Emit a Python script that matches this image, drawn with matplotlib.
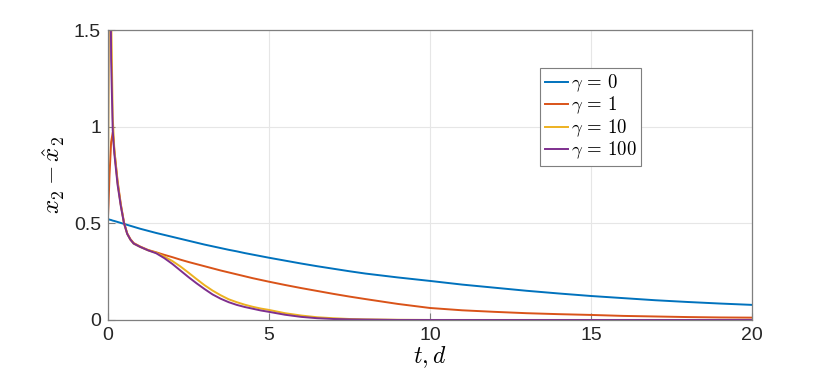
import matplotlib
matplotlib.use('Agg')
import matplotlib.pyplot as plt

plt.rcParams['font.family'] = ['Liberation Sans', 'DejaVu Sans']
plt.rcParams['mathtext.fontset'] = 'cm'

# time samples (days)
t = [0, 0.02, 0.05, 0.1, 0.15, 0.2, 0.3, 0.4, 0.5, 0.6, 0.7, 0.8, 1.0, 1.25, 1.5,
     1.75, 2, 2.25, 2.5, 2.75, 3, 3.25, 3.5, 3.75, 4, 4.25, 4.5, 4.75, 5,
     5.5, 6, 6.5, 7, 7.5, 8, 9, 10, 11, 12, 13, 14, 15, 16, 17, 18, 19, 20]

# estimation error x2 - x2_hat for each gamma
err_g0 = [0.522, 0.521, 0.519, 0.517, 0.514, 0.512, 0.507, 0.502, 0.497, 0.492, 0.487, 0.482,
          0.472, 0.461, 0.450, 0.440, 0.430, 0.420, 0.410, 0.400, 0.390, 0.381, 0.372, 0.363,
          0.355, 0.346, 0.338, 0.330, 0.322, 0.307, 0.292, 0.278, 0.265, 0.252, 0.240,
          0.220, 0.202, 0.183, 0.167, 0.151, 0.137, 0.124, 0.113, 0.102, 0.093, 0.085, 0.078]
err_g1 = [0.522, 0.60, 0.75, 0.92, 0.97, 0.88, 0.72, 0.60, 0.505, 0.448, 0.418, 0.398,
          0.380, 0.362, 0.350, 0.337, 0.325, 0.312, 0.300, 0.289, 0.278, 0.267, 0.256, 0.246,
          0.236, 0.226, 0.216, 0.207, 0.198, 0.181, 0.165, 0.150, 0.135, 0.121, 0.108,
          0.083, 0.062, 0.050, 0.042, 0.035, 0.030, 0.026, 0.021, 0.018, 0.015, 0.013, 0.012]
err_g10 = [0.522, 1.20, 2.40, 1.60, 1.05, 0.88, 0.71, 0.595, 0.50, 0.445, 0.415, 0.395,
           0.378, 0.360, 0.348, 0.328, 0.305, 0.277, 0.245, 0.212, 0.180, 0.152, 0.128, 0.107,
           0.092, 0.079, 0.068, 0.059, 0.052, 0.035, 0.023, 0.014, 0.009, 0.005, 0.003,
           0.001, 0, 0, 0, 0, 0, 0, 0, 0, 0, 0, 0]
err_g100 = [0.522, 2.20, 2.60, 1.35, 0.98, 0.86, 0.70, 0.59, 0.50, 0.445, 0.415, 0.395,
            0.378, 0.360, 0.345, 0.320, 0.290, 0.256, 0.222, 0.190, 0.160, 0.132, 0.110, 0.092,
            0.078, 0.067, 0.058, 0.049, 0.042, 0.027, 0.016, 0.009, 0.005, 0.003, 0.002,
            0, 0, 0, 0, 0, 0, 0, 0, 0, 0, 0, 0]

series = [err_g0, err_g1, err_g10, err_g100]
labels = [r'$\gamma\,=\,0$', r'$\gamma\,=\,1$', r'$\gamma\,=\,10$', r'$\gamma\,=\,100$']
colors = ['#0072BD', '#D95319', '#EDB120', '#7E2F8E']

xticks = [0, 5, 10, 15, 20]
yticks = [0, 0.5, 1, 1.5]
yticklabels = ['0', '0.5', '1', '1.5']

fig = plt.figure(figsize=(8.3, 3.8), dpi=100)
ax = fig.add_axes([0.130, 0.158, 0.776, 0.763])

for y, lab, c in zip(series, labels, colors):
    ax.plot(t, y, color=c, lw=1.4, label=lab)

ax.set_xlim(0, 20)
ax.set_ylim(0, 1.5)
ax.set_xticks(xticks)
ax.set_xticklabels([str(v) for v in xticks])
ax.set_yticks(yticks)
ax.set_yticklabels(yticklabels)
ax.grid(True, color='#e6e6e6', lw=0.8)
ax.set_axisbelow(True)
ax.tick_params(direction='in', length=5, width=0.8, color='#7f7f7f',
               labelsize=14, labelcolor='#262626', pad=5)
for s in ax.spines.values():
    s.set_color('#7f7f7f')
    s.set_linewidth(0.9)

ax.set_xlabel(r'$t, d$', fontsize=17, labelpad=0)
ax.set_ylabel(r'$x_2 - \hat{x}_2$', fontsize=18, labelpad=5)

leg = ax.legend(loc='upper left', bbox_to_anchor=(0.671, 0.87), fontsize=13.5,
                handlelength=1.25, handletextpad=0.15, borderpad=0.25,
                labelspacing=0.05, borderaxespad=0, fancybox=False, framealpha=1)
leg.get_frame().set_edgecolor('#7f7f7f')
leg.get_frame().set_linewidth(0.8)

fig.savefig('out.png', dpi=100)
